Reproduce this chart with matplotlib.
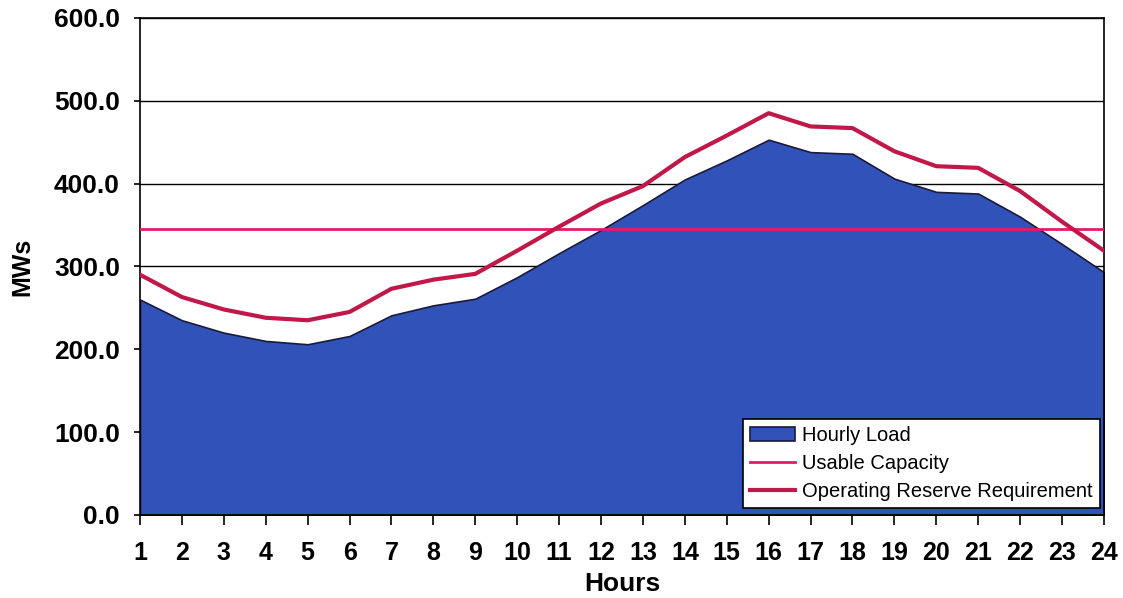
import numpy as np
import matplotlib.pyplot as plt

hours = list(range(1, 25))
hourly_load = [260, 235, 220, 210, 206, 216, 241, 253, 261, 287, 316, 344,
               374, 405, 428, 453, 438, 436, 406, 390, 388, 360, 327, 293]
usable_capacity = [345] * 24
reserve_req = [290, 263, 248, 238, 235, 245, 273, 284, 291, 319, 348, 376,
               397, 432, 458, 485, 469, 467, 439, 421, 419, 391, 354, 319]
y_ticks = [0, 100, 200, 300, 400, 500, 600]

plt.rcParams['font.family'] = ['Liberation Sans', 'DejaVu Sans']

fig = plt.figure(figsize=(11.23, 5.98), dpi=100)
ax = fig.add_axes([0.1247, 0.139, 0.8583, 0.831])

ax.fill_between(hours, hourly_load, 0, facecolor="#3152b8", edgecolor="#1a1a3a",
                linewidth=1.2, label="Hourly Load", zorder=2)
ax.plot(hours, usable_capacity, color="#e8186a", linewidth=2, label="Usable Capacity", zorder=3)
ax.plot(hours, reserve_req, color="#c01848", linewidth=3, label="Operating Reserve Requirement", zorder=3)

ax.set_xlim(1, 24)
ax.set_ylim(0, 600)
ax.set_xticks(hours)
ax.set_yticks(y_ticks)
ax.set_yticklabels([f"{v:.1f}" for v in y_ticks])
ax.yaxis.grid(True, color="black", linewidth=1, zorder=1)
ax.set_axisbelow(True)
for s in ax.spines.values():
    s.set_linewidth(1.2)
ax.tick_params(axis="x", direction="out", length=7, width=1.2, labelsize=18, pad=12)
ax.tick_params(axis="y", direction="out", length=4.5, width=1.2, labelsize=19, pad=10)
for lbl in ax.get_xticklabels() + ax.get_yticklabels():
    lbl.set_fontweight("bold")

ax.set_xlabel("Hours", fontsize=19, fontweight="bold", labelpad=5)
ax.set_ylabel("MWs", fontsize=18, fontweight="bold", labelpad=14)

leg = ax.legend(loc="lower right", bbox_to_anchor=(0.996, 0.014), fontsize=14.5,
                frameon=True, fancybox=False, framealpha=1, edgecolor="black",
                handlelength=2.25, handletextpad=0.35, borderpad=0.35, labelspacing=0.45,
                borderaxespad=0)
leg.get_frame().set_linewidth(1.2)

fig.savefig("out.png", dpi=100)
